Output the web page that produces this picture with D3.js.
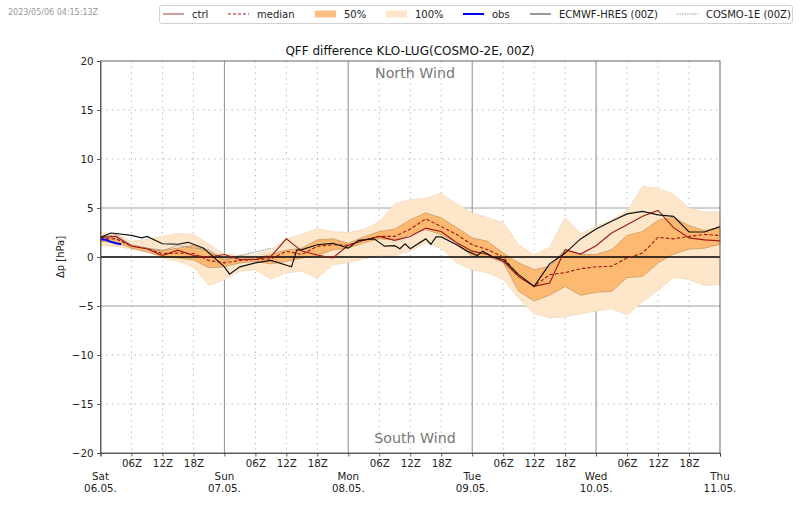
<!DOCTYPE html>
<html>
<head>
<meta charset="utf-8">
<script src="https://cdn.jsdelivr.net/npm/d3@7"></script>
<style>
body {margin: 0; background: #fff;}
text {font-family: "DejaVu Sans", sans-serif;}
.axis path, .axis line {stroke: #333; stroke-width: 0.8;}
.axis text {font-size: 10.3px; fill: #222;}
</style>
</head>
<body>
<div id="plot"></div>
<script>
// 3-hourly ensemble values, hour 0 to hour 120
var hours = [0,3,6,9,12,15,18,21,24,27,30,33,36,39,42,45,48,51,54,57,60,63,66,69,72,75,78,81,84,87,90,93,96,99,102,105,108,111,114,117,120];
var upper100 = [2.45,2.4,1.6,1.8,2.1,2.4,2.3,1.3,0.3,0.15,0.25,0.75,1.9,2.3,2.9,2.6,2.5,2.8,3.6,5.4,5.85,6,6.5,5.4,4.5,4,3.5,1.25,0.2,1,4,2.4,3.1,3.8,4.7,7.2,7,6.4,5,4.6,4.6];
var lower100 = [1.15,1.1,0.8,0.6,-0.1,-0.45,-1,-2.9,-2.3,-1.45,-1.3,-2.25,-1.6,-1.45,-2.15,-0.8,-0.55,-0.2,0.15,0.15,0.6,1.45,0.9,-0.6,-1.3,-1.6,-2.3,-4.2,-5.8,-6.2,-6.1,-5.8,-5.5,-5.3,-5.9,-4.6,-3.4,-2.1,-2.3,-2.9,-2.8];
var upper50 = [2.1,1.9,1.25,0.9,0.7,0.9,1.2,0.5,-0.1,-0.2,-0.1,0.25,0.7,0.9,1.75,1.85,1.4,2.05,2.6,2.85,3.8,4.5,4,3,1.95,1.6,0.4,-0.6,-1.3,-0.95,0.75,0.25,0.25,0.75,2.2,2.6,3.75,4.05,3.2,2.7,3];
var lower50 = [1.6,1.5,0.9,0.5,0.05,-0.1,-0.3,-1.1,-1,-0.6,-0.45,-0.7,-0.45,-0.1,0.15,0.75,0.9,1.45,1.85,1.75,2.3,2.8,2.3,1.45,0.05,0.05,-0.55,-3.5,-4.5,-3.9,-3,-3.9,-3.6,-3.5,-2.1,-2,-0.6,0.3,0.8,0.9,1.3];
var median = [1.85,1.85,1.1,0.85,0.35,0.4,0.35,-0.35,-0.6,-0.35,-0.25,-0.2,0.6,0.25,1.1,1.25,1.2,1.75,2.1,2.1,2.85,3.9,3.1,2.3,1.25,0.75,0,-2,-3,-1.8,-1.6,-1.2,-1,-0.95,-0.1,0.4,2,1.85,2.1,2.3,2.2];
var ctrl = [2,2.1,1.1,0.85,0.15,0.7,0.15,0,0.25,-0.25,-0.25,0.05,1.85,0.6,0.2,-0.1,1.2,1.7,2.1,1.7,2.1,2.95,2.6,1.45,0.6,0.25,-0.45,-2,-3,-2.65,0.75,0.3,1.15,2.45,3.3,4.15,4.75,3,1.95,1.75,1.65];

// deterministic runs have their own time steps
var hresHours = [0,2,3,6,8,9,12,15,17,20,24,25,27,30,33,37,38,39,42,45,48,50,53,55,57,58,59,60,63,64,65,66,69,71,73,74,76,78,81,84,87,90,93,96,99,102,105,108,111,114,117,120];
var hres = [2,2.45,2.4,2.2,1.95,2.1,1.35,1.3,1.5,0.9,-1,-1.75,-1,-0.6,-0.35,-1,0.7,0.75,1.25,1.4,0.9,1.7,1.85,1.1,1.15,0.85,1.35,0.85,1.85,1.3,2.05,2.05,1.25,0.6,0.15,0.6,0,-0.25,-1.8,-3,-0.7,0.4,1.85,2.85,3.65,4.4,4.65,4.3,4.15,2.55,2.55,3.1];
var cosmoHours = [0,3,6,9,12,15,18,21,24,27,30,33];
var cosmo1e = [2,2.3,1.2,0.9,0.6,1.2,0.9,0.75,-0.4,0.15,0.5,0.9];
var obsHours = [0,1,2,3,4];
var obs = [1.8,1.75,1.55,1.4,1.3];

var dayTicks = [0,24,48,72,96,120];
var dayLabels = [["Sat","06.05."],["Sun","07.05."],["Mon","08.05."],["Tue","09.05."],["Wed","10.05."],["Thu","11.05."]];
var subTicks = [6,12,18,30,36,42,54,60,66,78,84,90,102,108,114];
var subLabels = {6:"06Z",12:"12Z",18:"18Z"};
var yTicks = [-20,-15,-10,-5,0,5,10,15,20];

var width = 800, height = 509;
var margin = {t: 61, r: 80, b: 56, l: 100};

var plot = d3.select("#plot").append("svg")
    .attr("width", width)
    .attr("height", height)
    .style("display", "block");

var scaleX = d3.scaleLinear().domain([0,120]).range([margin.l + 0.5, width - margin.r]);
var scaleY = d3.scaleLinear().domain([-20,20]).range([height - margin.b, margin.t]);

//grid first, bands go on top
var grid = plot.append("g");
grid.selectAll(".sub").data(subTicks).enter().append("line")
    .attr("x1", function(d){ return scaleX(d); })
    .attr("x2", function(d){ return scaleX(d); })
    .attr("y1", scaleY(20)).attr("y2", scaleY(-20))
    .attr("stroke", "#aaa").attr("stroke-width", 1).attr("stroke-dasharray", "1.2,4.5");
//Mon and Wed come out wider and paler in the reference
grid.selectAll(".day").data(dayTicks.slice(1,5)).enter().append("line")
    .attr("x1", function(d){ return scaleX(d); })
    .attr("x2", function(d){ return scaleX(d); })
    .attr("y1", scaleY(20)).attr("y2", scaleY(-20))
    .attr("stroke", function(d){ return d % 48 == 0 ? "#b4b4b4" : "#8c8c8c"; })
    .attr("stroke-width", function(d){ return d % 48 == 0 ? 1.6 : 1; });
grid.selectAll(".h").data(yTicks.filter(function(d){ return d != 0 && Math.abs(d) < 20; })).enter().append("line")
    .attr("x1", scaleX(0)).attr("x2", scaleX(120))
    .attr("y1", function(d){ return scaleY(d); })
    .attr("y2", function(d){ return scaleY(d); })
    .attr("stroke", function(d){ return Math.abs(d) == 5 ? "#a0a0a0" : "#aaa"; })
    .attr("stroke-width", 1)
    .attr("stroke-dasharray", function(d){ return Math.abs(d) == 5 ? null : "1.2,4.5"; });

function band(lo, hi){
    return d3.area()
        .x(function(d,i){ return scaleX(hours[i]); })
        .y0(function(d,i){ return scaleY(lo[i]); })
        .y1(function(d,i){ return scaleY(hi[i]); })(hours);
}
function line(xs, ys){
    return d3.line()
        .x(function(d,i){ return scaleX(xs[i]); })
        .y(function(d,i){ return scaleY(ys[i]); })(xs);
}

var col100 = "#fee6ca", col50 = "#fdb96f", colRed = "#a01818";
plot.append("path").attr("d", band(lower100, upper100)).attr("fill", col100).attr("stroke", "#f3d9bb").attr("stroke-width", 0.8);
plot.append("path").attr("d", band(lower50, upper50)).attr("fill", col50).attr("stroke", "#c99a66").attr("stroke-width", 0.8);

plot.append("path").attr("d", line(cosmoHours, cosmo1e)).attr("fill", "none").attr("stroke", "#888").attr("stroke-width", 1).attr("stroke-dasharray", "1.5,1");
plot.append("line").attr("x1", scaleX(0)).attr("x2", scaleX(120)).attr("y1", scaleY(0)).attr("y2", scaleY(0)).attr("stroke", "#000").attr("stroke-width", 1.4);
plot.append("path").attr("d", line(hours, ctrl)).attr("fill", "none").attr("stroke", colRed).attr("stroke-width", 1.1);
plot.append("path").attr("d", line(hours, median)).attr("fill", "none").attr("stroke", colRed).attr("stroke-width", 1.1).attr("stroke-dasharray", "3.5,2");
plot.append("path").attr("d", line(hresHours, hres)).attr("fill", "none").attr("stroke", "#111").attr("stroke-width", 1.2);
plot.append("path").attr("d", line(obsHours, obs)).attr("fill", "none").attr("stroke", "#0000ee").attr("stroke-width", 2);

//axes
var axisY = d3.axisLeft(scaleY).tickValues(yTicks).tickSize(3.5).tickPadding(3.5)
    .tickFormat(function(d){ return String(d).replace("-", "\u2212"); });
plot.append("g").attr("class", "axis").attr("transform", "translate(" + (margin.l + 0.5) + ",0)").call(axisY);

var axisX = d3.axisBottom(scaleX).tickValues(dayTicks.concat(subTicks)).tickSize(3.5).tickPadding(3.5)
    .tickFormat(function(d){ return subLabels[d % 24] || ""; });
plot.append("g").attr("class", "axis").attr("transform", "translate(0," + scaleY(-20) + ")").call(axisX);

//frame
plot.append("rect").attr("x", scaleX(0)).attr("y", scaleY(20))
    .attr("width", scaleX(120) - scaleX(0)).attr("height", scaleY(-20) - scaleY(20))
    .attr("fill", "none").attr("stroke", "#555").attr("stroke-width", 0.9);

//day labels
dayLabels.forEach(function(d,i){
    var t = plot.append("text").attr("text-anchor", "middle").attr("font-size", 10.3).attr("fill", "#222");
    t.append("tspan").attr("x", scaleX(dayTicks[i])).attr("y", 480).text(d[0]);
    t.append("tspan").attr("x", scaleX(dayTicks[i])).attr("y", 492).text(d[1]);
});

plot.append("text").attr("transform", "translate(64,257) rotate(-90)").attr("text-anchor", "middle")
    .attr("font-size", 10).attr("fill", "#222").text("\u0394p [hPa]");
plot.append("text").attr("x", 410).attr("y", 55).attr("text-anchor", "middle").attr("font-size", 12).attr("fill", "#111")
    .text("QFF difference KLO-LUG(COSMO-2E, 00Z)");
plot.append("text").attr("x", 415).attr("y", 78).attr("text-anchor", "middle").attr("font-size", 14.2).attr("fill", "#777").text("North Wind");
plot.append("text").attr("x", 415).attr("y", 443).attr("text-anchor", "middle").attr("font-size", 14.2).attr("fill", "#777").text("South Wind");
plot.append("text").attr("x", 8).attr("y", 15).attr("font-size", 8).attr("fill", "#999").text("2023/05/06 04:15:13Z");

//legend
var legendNames = ["ctrl","median","50%","100%","obs","ECMWF-HRES (00Z)","COSMO-1E (00Z)"];
var legendX = [163,228,315,386,463,530,677];
var legendStyle = [
    {stroke: "#b26a6a", w: 1.3},
    {stroke: colRed, w: 1.1, dash: "3,2"},
    {fill: "#fdbf80"},
    {fill: col100},
    {stroke: "#0000ee", w: 2},
    {stroke: "#555", w: 1.2},
    {stroke: "#999", w: 1, dash: "1.5,1"}
];
plot.append("rect").attr("x", 159.5).attr("y", 5.5).attr("width", 633).attr("height", 18).attr("rx", 2.5)
    .attr("fill", "#fff").attr("stroke", "#ccc").attr("stroke-width", 0.9);
legendNames.forEach(function(name,i){
    var s = legendStyle[i], x = legendX[i];
    if (s.fill) {
        plot.append("rect").attr("x", x).attr("y", 10.5).attr("width", 21).attr("height", 7).attr("fill", s.fill);
    } else {
        plot.append("line").attr("x1", x).attr("x2", x + 21).attr("y1", 14).attr("y2", 14)
            .attr("stroke", s.stroke).attr("stroke-width", s.w).attr("stroke-dasharray", s.dash || null);
    }
    plot.append("text").attr("x", x + 29).attr("y", 17.5).attr("font-size", 10).attr("fill", "#222").text(name);
});
</script>
</body>
</html>
